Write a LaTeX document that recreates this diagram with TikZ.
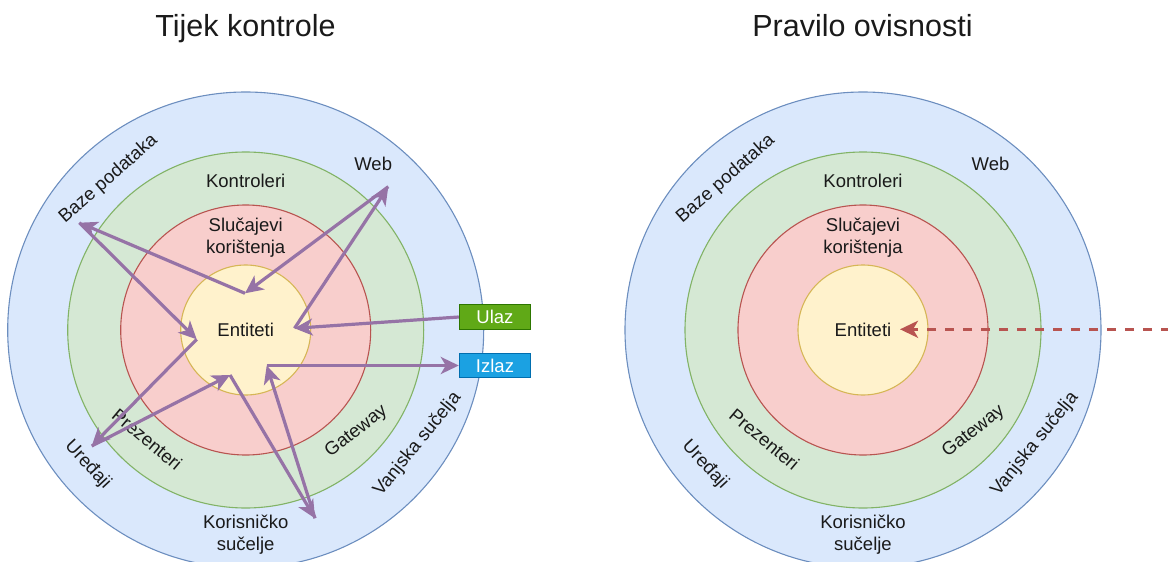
\documentclass[tikz,border=0pt]{standalone}
\usepackage{fontspec}
\setmainfont{Liberation Sans}
\usetikzlibrary{arrows.meta}
\definecolor{vanjFill}{HTML}{DAE8FC}
\definecolor{vanjLine}{HTML}{6C8EBF}
\definecolor{kontFill}{HTML}{D5E8D4}
\definecolor{kontLine}{HTML}{82B366}
\definecolor{slucFill}{HTML}{F8CECC}
\definecolor{slucLine}{HTML}{B85450}
\definecolor{entFill}{HTML}{FFF2CC}
\definecolor{entLine}{HTML}{D6B656}
\definecolor{tokCol}{HTML}{9673A6}
\definecolor{ulazFill}{HTML}{60A917}
\definecolor{ulazLine}{HTML}{2D7600}
\definecolor{izlazFill}{HTML}{1BA1E2}
\definecolor{izlazLine}{HTML}{006EAF}
\definecolor{txtCol}{HTML}{1A1A1A}

\begin{document}
\begin{tikzpicture}[x=1pt,y=1pt,
    lbl/.style={font=\fontsize{18.5}{22.5}\selectfont, text=txtCol, align=center},
    naslov/.style={font=\fontsize{30.5}{34}\selectfont, text=txtCol, anchor=base},
    sloj/.style={line width=1.1pt},
    tok/.style={draw=tokCol, line width=3.2pt, -{Stealth[length=18pt,width=17pt,inset=5pt]}},
    ovis/.style={draw=slucLine, line width=3.2pt, dash pattern=on 9pt off 9pt, -{Stealth[length=18pt,width=17pt,inset=5pt]}},
    kutija/.style={font=\fontsize{18.5}{22.5}\selectfont, text=white, minimum width=71.4pt, minimum height=24.3pt, line width=1pt}]
    \tikzstyle{every node}+=[inner sep=0pt]
    \useasboundingbox (0,0) rectangle (1168,-562);
    \node [naslov] (tijek) at (245.5,-36.7) {Tijek kontrole};
    \node [naslov] (pravilo) at (862.5,-36.7) {Pravilo ovisnosti};
    \draw [sloj, draw=vanjLine, fill=vanjFill] (245.7,-330) circle (238);
    \draw [sloj, draw=kontLine, fill=kontFill] (245.7,-330) circle (178);
    \draw [sloj, draw=slucLine, fill=slucFill] (245.7,-330) circle (125);
    \draw [sloj, draw=entLine, fill=entFill] (245.7,-330) circle (65);
    \node [lbl] (entL) at (245.7,-329.5) {Entiteti};
    \node [lbl] (slucL) at (245.7,-237.5) {Slučajevi\\korištenja};
    \node [lbl] (kontL) at (245.7,-181) {Kontroleri};
    \node [lbl] (webL) at (373.2,-164) {Web};
    \node [lbl, rotate=41] (bazeL) at (108.5,-179) {Baze podataka};
    \node [lbl, rotate=-40] (prezL) at (147.2,-439.2) {Prezenteri};
    \node [lbl, rotate=-47] (uredL) at (87.8,-465) {Uređaji};
    \node [lbl, rotate=38] (gateL) at (356.4,-431.7) {Gateway};
    \node [lbl, rotate=51] (vanjL) at (417.5,-444.2) {Vanjska sučelja};
    \node [lbl] (korL) at (245.7,-534.5) {Korisničko\\sučelje};
    \node [kutija, draw=ulazLine, fill=ulazFill] (ulaz) at (495,-317) {Ulaz};
    \node [kutija, draw=izlazLine, fill=izlazFill] (izlaz) at (495,-365.5) {Izlaz};
    \coordinate (eR) at (294.5,-328.3);
    \coordinate (web) at (388.3,-186.7);
    \coordinate (eT) at (245,-293.3);
    \coordinate (baze) at (79.3,-222.7);
    \coordinate (eL) at (196.7,-339.3);
    \coordinate (ured) at (91.7,-446);
    \coordinate (eBL) at (230,-375);
    \coordinate (kor) at (315,-518.3);
    \coordinate (eBR) at (266.7,-365.5);
    \draw [tok] (ulaz.west) -- (eR);
    \draw [tok] (eR) -- (web);
    \draw [tok] (web) -- (eT);
    \draw [tok] (eT) -- (baze);
    \draw [tok] (baze) -- (eL);
    \draw [tok] (eL) -- (ured);
    \draw [tok] (ured) -- (eBL);
    \draw [tok] (eBL) -- (kor);
    \draw [tok] (kor) -- (eBR);
    \draw [tok] (eBR) -- (izlaz.west);
    \draw [sloj, draw=vanjLine, fill=vanjFill] (863,-330) circle (238);
    \draw [sloj, draw=kontLine, fill=kontFill] (863,-330) circle (178);
    \draw [sloj, draw=slucLine, fill=slucFill] (863,-330) circle (125);
    \draw [sloj, draw=entLine, fill=entFill] (863,-330) circle (65);
    \node [lbl] (entR) at (863,-329.5) {Entiteti};
    \node [lbl] (slucR) at (863,-237.5) {Slučajevi\\korištenja};
    \node [lbl] (kontR) at (863,-181) {Kontroleri};
    \node [lbl] (webR) at (990.5,-164) {Web};
    \node [lbl, rotate=41] (bazeR) at (725.8,-179) {Baze podataka};
    \node [lbl, rotate=-40] (prezR) at (764.5,-439.2) {Prezenteri};
    \node [lbl, rotate=-47] (uredR) at (705.1,-465) {Uređaji};
    \node [lbl, rotate=38] (gateR) at (973.7,-431.7) {Gateway};
    \node [lbl, rotate=51] (vanjR) at (1034.8,-444.2) {Vanjska sučelja};
    \node [lbl] (korR) at (863,-534.5) {Korisničko\\sučelje};
    \coordinate (izvor) at (1170,-329.3);
    \coordinate (cilj) at (900,-329.3);
    \draw [ovis] (izvor) -- (cilj);
\end{tikzpicture}
\end{document}
